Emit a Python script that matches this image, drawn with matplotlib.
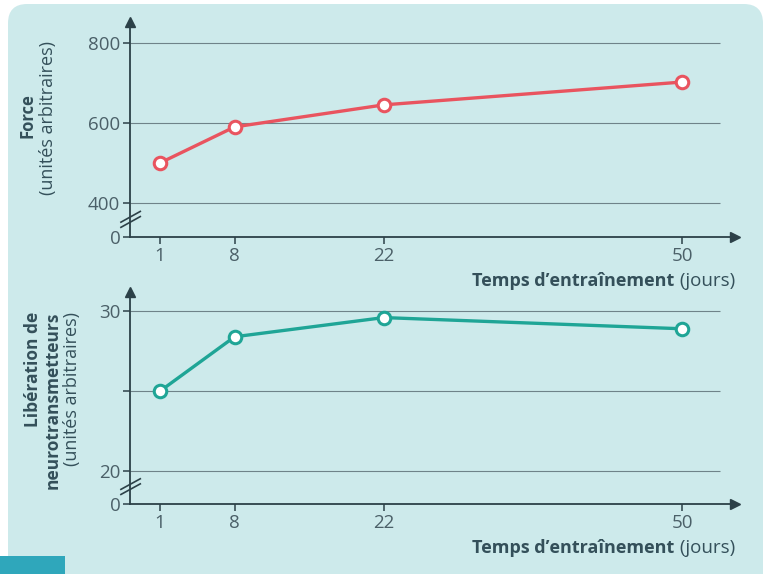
import numpy as np
import matplotlib.pyplot as plt
from matplotlib.patches import FancyBboxPatch, Rectangle

# data
jours = [1, 8, 22, 50]
force = [500, 590, 645, 702]
neuro = [25.0, 28.4, 29.6, 28.9]

force_ticks = [0, 400, 600, 800]
force_grid = [400, 600, 800]
neuro_ticks = [0, 20, 25, 30]
neuro_labels = ['0', '20', '', '30']
neuro_grid = [20, 25, 30]

W, H = 771, 574
fond = '#cdeaeb'
texte = '#34505a'
rouge = '#e9545f'
vert = '#1fa596'

plt.rcParams['font.family'] = ['Open Sans', 'DejaVu Sans']

fig = plt.figure(figsize=(W / 100, H / 100), dpi=100)
fig.patch.set_facecolor('white')

# the card behind the charts
card = FancyBboxPatch((8 / W, -0.05), (763 - 8) / W, (H - 4) / H + 0.05,
                      boxstyle='round,pad=0,rounding_size=0.025',
                      mutation_aspect=W / H, transform=fig.transFigure,
                      facecolor=fond, edgecolor='none', zorder=-5)
fig.patches.append(card)
fig.patches.append(Rectangle((0, 0), 65 / W, 18 / H, transform=fig.transFigure,
                             facecolor='#2fa7bb', edgecolor='none', zorder=1))


def break_scale(low, gap):
    # values below 'low' are squeezed into 'gap' units
    def fwd(v):
        v = np.asarray(v, dtype=float)
        return np.where(v >= low, gap + (v - low), v * gap / low)

    def inv(u):
        u = np.asarray(u, dtype=float)
        return np.where(u >= gap, low + (u - gap), u * low / gap)
    return fwd, inv


def px_axes(left, right, top, bottom):
    return fig.add_axes([left / W, (H - bottom) / H, (right - left) / W, (bottom - top) / H])


def draw_panel(ax, y, color, ticks, labels, grid, low, gap, ytop):
    ax.set_facecolor('none')
    ax.set_yscale('function', functions=break_scale(low, gap))
    ax.set_xlim(-1.82, 54.97)
    ax.set_ylim(0, ytop)
    for s in ['top', 'right']:
        ax.spines[s].set_visible(False)
    for s in ['left', 'bottom']:
        ax.spines[s].set_color('#2c4148')
        ax.spines[s].set_linewidth(1.3)
    ax.set_yticks(ticks)
    ax.set_yticklabels(labels)
    ax.yaxis.set_minor_locator(plt.NullLocator())
    ax.set_xticks(jours)
    ax.set_xticklabels([str(j) for j in jours])
    ax.tick_params(axis='both', colors='#2c4148', labelcolor='#4b6068', labelsize=13.5,
                   length=5, width=1.1, pad=2)
    ax.hlines(grid, -1.82, 53.6, color='#6f8389', lw=0.8, zorder=1)
    ax.plot(jours, y, color=color, lw=2.4, marker='o', markersize=9,
            markerfacecolor='white', markeredgecolor=color, markeredgewidth=2.2,
            zorder=3, clip_on=False)
    # arrows at the ends of the axes
    ax.plot(0, 1.0, '^', color='#2c4148', markersize=7, transform=ax.transAxes, clip_on=False)
    ax.plot(1.0, 0, '>', color='#2c4148', markersize=7, transform=ax.transAxes, clip_on=False)
    # axis break marks
    for dy in (0.0, 0.024):
        ax.plot([-0.015, 0.017], [0.045 + dy, 0.095 + dy], color='#2c4148', lw=1.2,
                transform=ax.transAxes, clip_on=False)
    return ax


top = px_axes(130, 735, 22, 237)
draw_panel(top, force, rouge, force_ticks, [str(t) for t in force_ticks], force_grid,
           400, 85, 852)
bot = px_axes(130, 735, 292, 504)
draw_panel(bot, neuro, vert, neuro_ticks, neuro_labels, neuro_grid,
           20, 2.06, 31.2)

# y labels
fig.text(28 / W, 1 - 116 / H, 'Force', rotation=90, ha='center', va='center',
         fontsize=12, fontweight='bold', color=texte)
fig.text(48 / W, 1 - 118 / H, '(unités arbitraires)', rotation=90, ha='center', va='center',
         fontsize=13, color=texte)
fig.text(33 / W, 1 - 312 / H, 'Libération de', rotation=90, ha='center', va='top',
         fontsize=12.5, fontweight='bold', color=texte)
fig.text(53 / W, 1 - 312 / H, 'neurotransmetteurs', rotation=90, ha='center', va='top',
         fontsize=12.5, fontweight='bold', color=texte)
fig.text(72 / W, 1 - 312 / H, '(unités arbitraires)', rotation=90, ha='center', va='top',
         fontsize=13, color=texte)

# x labels: bold part then normal part
fig.canvas.draw()
rend = fig.canvas.get_renderer()
for yy in (281, 548):
    t2 = fig.text(735 / W, 1 - yy / H, ' (jours)', ha='right', va='center',
                  fontsize=13.5, color=texte)
    bb = t2.get_window_extent(renderer=rend)
    fig.text(bb.x0 / W, 1 - yy / H, 'Temps d’entraînement', ha='right', va='center',
             fontsize=13, fontweight='bold', color=texte)

fig.savefig('out.png', dpi=100, facecolor=fig.get_facecolor())
